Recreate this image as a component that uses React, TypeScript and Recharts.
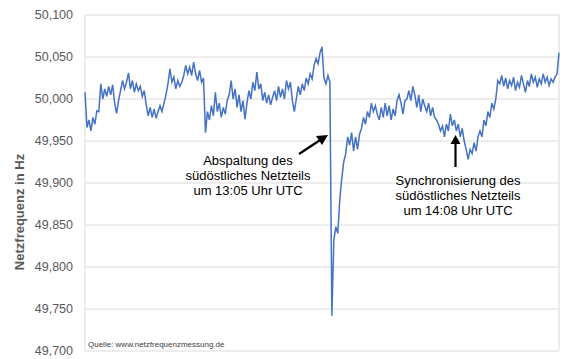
import { CartesianGrid, Line, LineChart, XAxis, YAxis } from "recharts";

// minutes after 11:00 UTC, one reading per minute
const minutes: number[] = Array.from({ length: 241 }, (_, i) => i);

// grid frequency in Hz
const freq: number[] = [
  50.008, 49.966, 49.975, 49.962, 49.978, 49.97, 49.986, 49.985, 50.018, 50.0,
  50.012, 50.003, 50.015, 50.005, 50.017, 49.995, 49.983, 49.998, 50.01, 50.022,
  50.012, 50.02, 50.031, 50.012, 50.022, 50.008, 50.018, 50.01, 50.015, 50.003,
  50.01, 49.993, 49.98, 49.99, 49.978, 49.988, 49.977, 49.985, 49.992, 49.985,
  49.995, 50.005, 50.018, 50.036, 50.02, 50.026, 50.012, 50.022, 50.015, 50.02,
  50.028, 50.04, 50.03, 50.038, 50.028, 50.044, 50.03, 50.022, 50.034, 50.02,
  50.025, 49.96, 49.985, 49.975, 49.992, 49.98, 50.008, 49.985, 49.995, 49.978,
  49.99, 49.982, 49.998, 50.005, 50.022, 50.0, 50.012, 49.99, 50.005, 49.985,
  49.998, 49.976, 49.995, 50.01, 50.0, 50.02, 50.01, 50.032, 50.012, 50.018,
  49.998, 50.008, 49.995, 50.005, 49.993, 50.002, 50.01, 49.998, 50.015, 50.002,
  50.012, 50.0, 50.022, 50.012, 50.02, 49.998, 49.985, 50.0, 50.015, 50.005,
  50.018, 50.01, 50.025, 50.018, 50.03, 50.024, 50.04, 50.048, 50.042, 50.055,
  50.062, 50.025, 50.018, 50.028, 50.02, 49.742, 49.832, 49.848, 49.84, 49.88,
  49.905, 49.925, 49.935, 49.955, 49.945, 49.96, 49.938, 49.955, 49.94, 49.958,
  49.965, 49.978, 49.97, 49.985, 49.978, 49.995, 49.985, 49.992, 49.982, 49.975,
  49.99, 49.978, 49.995, 49.98, 49.992, 49.975, 49.988, 49.98, 49.998, 50.005,
  49.995, 49.982, 49.998, 50.0, 50.01, 49.998, 50.015, 50.005, 49.99, 50.005,
  49.985, 50.0, 49.992, 49.985, 49.995, 49.98, 49.99, 49.978, 49.975, 49.97,
  49.962, 49.968, 49.955, 49.97, 49.962, 49.982, 49.968, 49.975, 49.962, 49.97,
  49.955, 49.965, 49.95, 49.94, 49.928, 49.94, 49.935, 49.948, 49.938, 49.955,
  49.962, 49.955, 49.975, 49.968, 49.985, 49.978, 49.995, 49.988, 50.0, 50.022,
  50.018, 50.028, 50.015, 50.025, 50.012, 50.022, 50.016, 50.026, 50.01, 50.02,
  50.014, 50.028, 50.018, 50.008, 50.022, 50.015, 50.03, 50.02, 50.026, 50.014,
  50.024, 50.018, 50.03, 50.02, 50.026, 50.016, 50.024, 50.02, 50.026, 50.03,
  50.055,
];

const xTicks = [0, 15, 30, 45, 60, 75, 90, 105, 120, 135, 150, 165, 180, 195, 210, 225, 240];
const yTicks = [49.7, 49.75, 49.8, 49.85, 49.9, 49.95, 50.0, 50.05, 50.1];

const data = minutes.map((m, i) => ({ m, hz: freq[i] }));

const font = "Arial, 'Liberation Sans', sans-serif";

const fmt = (v: number) => v.toFixed(3).replace(".", ",");

export default function App() {
  return (
    <div style={{ position: "absolute", left: 0, top: 0, width: 568, height: 359 }}>
      <LineChart
        width={568}
        height={359}
        data={data}
        margin={{ top: 15, right: 9, bottom: 8, left: 0 }}
      >
        <CartesianGrid stroke="#dcdcdc" strokeWidth={1} />
        <XAxis
          dataKey="m"
          type="number"
          domain={[0, 240]}
          ticks={xTicks}
          tick={false}
          tickLine={false}
          axisLine={false}
          height={0}
        />
        <YAxis
          type="number"
          domain={[49.7, 50.1]}
          ticks={yTicks}
          tickFormatter={fmt}
          width={85}
          axisLine={false}
          tickLine={false}
          tickSize={0}
          tickMargin={12}
          tick={{ fill: "#595959", fontSize: 12.5, fontFamily: font }}
        />
        <Line
          type="linear"
          dataKey="hz"
          stroke="#4472C4"
          strokeWidth={1.5}
          dot={false}
          isAnimationActive={false}
        />
      </LineChart>
      <svg
        width={568}
        height={359}
        style={{ position: "absolute", left: 0, top: 0, pointerEvents: "none" }}
      >
        <text
          transform="translate(24,212) rotate(-90)"
          textAnchor="middle"
          fontFamily={font}
          fontSize={13}
          fontWeight="bold"
          fill="#595959"
        >
          Netzfrequenz in Hz
        </text>
        <text x={88} y={347} fontFamily={font} fontSize={8} fill="#404040">
          Quelle: www.netzfrequenzmessung.de
        </text>
        <g fontFamily={font} fontSize={13} fill="#000" textAnchor="middle">
          <text x={248} y={165}>Abspaltung des</text>
          <text x={248} y={180}>südöstliches Netzteils</text>
          <text x={248} y={195}>um 13:05 Uhr UTC</text>
          <text x={458} y={185}>Synchronisierung des</text>
          <text x={458} y={200}>südöstliches Netzteils</text>
          <text x={458} y={215}>um 14:08 Uhr UTC</text>
        </g>
        <line x1={299} y1={154} x2={321} y2={139.5} stroke="#000" strokeWidth={2.2} />
        <polygon points="328,135 316,136 322,145" fill="#000" />
        <line x1={455.5} y1={167} x2={455.5} y2={142} stroke="#000" strokeWidth={2.2} />
        <polygon points="455.5,135 450.5,144 460.5,144" fill="#000" />
      </svg>
    </div>
  );
}
